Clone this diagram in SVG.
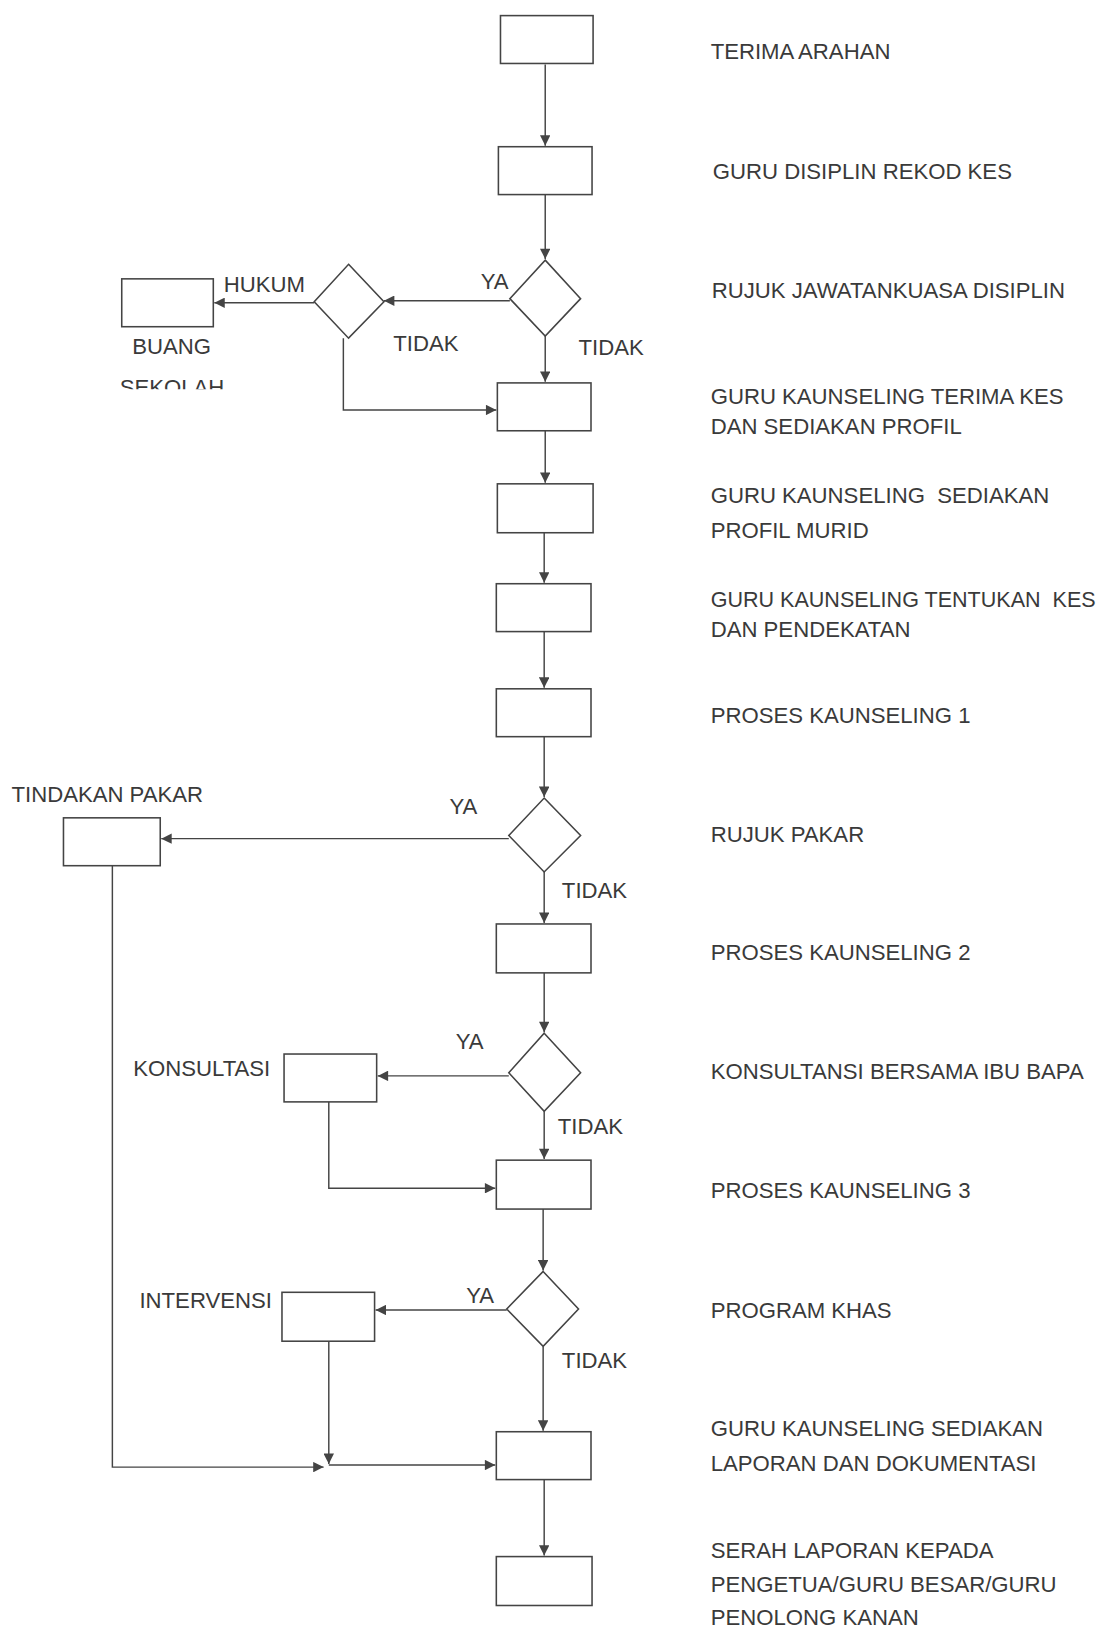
<svg xmlns="http://www.w3.org/2000/svg" width="1104" height="1631" viewBox="0 0 1104 1631">
<style>
.box{fill:#fff;stroke:#444;stroke-width:1.5}
.dia{fill:#fff;stroke:#444;stroke-width:1.5}
.ln{fill:none;stroke:#444;stroke-width:1.4}
.arr{marker-end:url(#ah)}
text{font-family:"Liberation Sans",Arial,sans-serif;font-size:21.3px;fill:#3a3a3a}
</style>
<defs>
<marker id="ah" viewBox="0 0 10 10" refX="10" refY="5" markerWidth="11" markerHeight="10" markerUnits="userSpaceOnUse" orient="auto">
<path d="M0,0 L10,5 L0,10 Z" fill="#444"/>
</marker>
<clipPath id="clipSek"><rect x="100" y="350" width="140" height="24"/></clipPath>
</defs>
<rect width="1104" height="1631" fill="#fff"/>
<g transform="scale(1.0405)">
<g id="connectors">
<path class="ln arr" d="M524,62 V140"/>
<path class="ln arr" d="M524,187 V249"/>
<path class="ln arr" d="M490,289 H369"/>
<path class="ln arr" d="M302,291 H206"/>
<path class="ln arr" d="M524,323 V367"/>
<path class="ln arr" d="M330,325 V394 H477"/>
<path class="ln arr" d="M524,414 V464"/>
<path class="ln arr" d="M523,512 V560"/>
<path class="ln arr" d="M523,607 V661"/>
<path class="ln arr" d="M523,708 V766"/>
<path class="ln arr" d="M489,806 H155"/>
<path class="ln arr" d="M523,838 V887"/>
<path class="ln arr" d="M523,935 V992"/>
<path class="ln arr" d="M489,1034 H363"/>
<path class="ln arr" d="M523,1068 V1114"/>
<path class="ln arr" d="M316,1059 V1142 H476"/>
<path class="ln arr" d="M522,1162 V1221"/>
<path class="ln arr" d="M487,1259 H361"/>
<path class="ln arr" d="M522,1294 V1375"/>
<path class="ln arr" d="M108,832 V1410 H311"/>
<path class="ln arr" d="M316,1289 V1407"/>
<path class="ln arr" d="M316,1408 H476"/>
<path class="ln arr" d="M523,1422 V1495"/>
</g>

<g id="n1"><rect class="box" x="481" y="15" width="89" height="46"/><text x="683" y="57">TERIMA ARAHAN</text></g>
<g id="n2"><rect class="box" x="479" y="141" width="90" height="46"/><text x="685" y="172">GURU DISIPLIN REKOD KES</text></g>
<g id="d1"><polygon class="dia" points="524,250 558,287 524,323 490,287"/><text x="684" y="286">RUJUK JAWATANKUASA DISIPLIN</text>
<text x="462" y="278">YA</text><text x="556" y="341">TIDAK</text></g>
<g id="d2"><polygon class="dia" points="335,254 369,290 335,325 302,290"/><text x="215" y="281">HUKUM</text><text x="378" y="337">TIDAK</text></g>
<g id="buang"><rect class="box" x="117" y="268" width="88" height="46"/><text x="127" y="340">BUANG</text>
<text x="115" y="380" clip-path="url(#clipSek)">SEKOLAH</text></g>
<g id="n3"><rect class="box" x="478" y="368" width="90" height="46"/><text x="683" y="388">GURU KAUNSELING TERIMA KES</text><text x="683" y="417">DAN SEDIAKAN PROFIL</text></g>
<g id="n4"><rect class="box" x="478" y="465" width="92" height="47"/><text x="683" y="483" xml:space="preserve">GURU KAUNSELING  SEDIAKAN</text><text x="683" y="517">PROFIL MURID</text></g>
<g id="n5"><rect class="box" x="477" y="561" width="91" height="46"/><text x="683" y="583" xml:space="preserve" textLength="370" lengthAdjust="spacingAndGlyphs">GURU KAUNSELING TENTUKAN  KES</text><text x="683" y="612">DAN PENDEKATAN</text></g>
<g id="n6"><rect class="box" x="477" y="662" width="91" height="46"/><text x="683" y="695">PROSES KAUNSELING 1</text></g>
<g id="d3"><polygon class="dia" points="523,767 558,803 523,838 489,803"/><text x="683" y="809">RUJUK PAKAR</text>
<text x="432" y="782">YA</text><text x="540" y="863">TIDAK</text></g>
<g id="pakar"><rect class="box" x="61" y="786" width="93" height="46"/><text x="11" y="771">TINDAKAN PAKAR</text></g>
<g id="n7"><rect class="box" x="477" y="888" width="91" height="47"/><text x="683" y="923">PROSES KAUNSELING 2</text></g>
<g id="d4"><polygon class="dia" points="523,993 558,1031 523,1068 489,1031"/><text x="683" y="1037">KONSULTANSI BERSAMA IBU BAPA</text>
<text x="438" y="1008">YA</text><text x="536" y="1090">TIDAK</text></g>
<g id="konsultasi"><rect class="box" x="273" y="1013" width="89" height="46"/><text x="128" y="1034">KONSULTASI</text></g>
<g id="n8"><rect class="box" x="477" y="1115" width="91" height="47"/><text x="683" y="1151">PROSES KAUNSELING 3</text></g>
<g id="d5"><polygon class="dia" points="522,1222 556,1258 522,1294 487,1258"/><text x="683" y="1267">PROGRAM KHAS</text>
<text x="448" y="1252">YA</text><text x="540" y="1315">TIDAK</text></g>
<g id="intervensi"><rect class="box" x="271" y="1242" width="89" height="47"/><text x="134" y="1257">INTERVENSI</text></g>
<g id="n9"><rect class="box" x="477" y="1376" width="91" height="46"/><text x="683" y="1380">GURU KAUNSELING SEDIAKAN</text><text x="683" y="1414">LAPORAN DAN DOKUMENTASI</text></g>
<g id="n10"><rect class="box" x="477" y="1496" width="92" height="47"/><text x="683" y="1497">SERAH LAPORAN KEPADA</text><text x="683" y="1530">PENGETUA/GURU BESAR/GURU</text><text x="683" y="1562">PENOLONG KANAN</text></g>
</g>
</svg>
